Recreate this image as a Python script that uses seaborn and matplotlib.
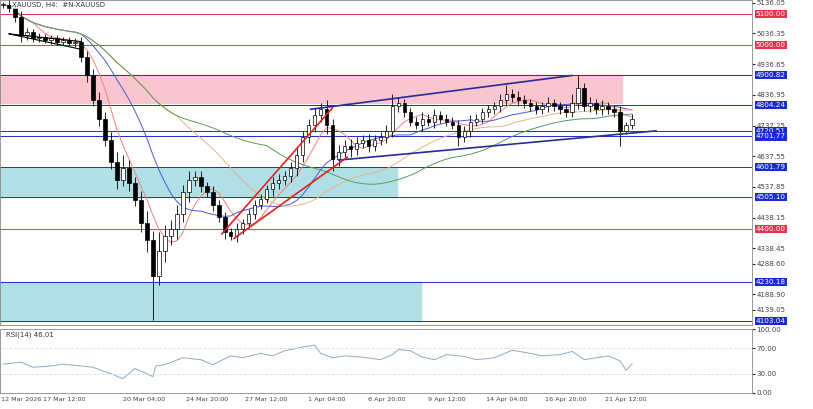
import numpy as np
import pandas as pd
import matplotlib
matplotlib.use("Agg")
import matplotlib.pyplot as plt
from matplotlib.patches import Rectangle
import seaborn as sns

sns.set_style("white")
plt.rcParams['font.family'] = ['DejaVu Sans']

# closes per bar (each bar ~ 6 px of the reference)
closes = [5130, 5120, 5090, 5030, 5040, 5020, 5025, 5015, 5020, 5010, 5015, 5005, 5010, 4960, 4900,
          4820, 4760, 4690, 4620, 4560, 4600, 4550, 4495, 4420, 4365, 4250, 4330, 4380, 4400, 4450,
          4520, 4560, 4570, 4540, 4520, 4480, 4440, 4390, 4380, 4400, 4420, 4450, 4480, 4500, 4530,
          4550, 4560, 4575, 4600, 4640, 4700, 4740, 4770, 4790, 4740, 4630, 4650, 4670, 4660, 4680,
          4690, 4670, 4690, 4700, 4720, 4800, 4810, 4780, 4750, 4740, 4760, 4750, 4770, 4760, 4750,
          4740, 4700, 4720, 4750, 4760, 4780, 4790, 4800, 4820, 4840, 4830, 4820, 4810, 4800, 4790,
          4800, 4810, 4800, 4790, 4780, 4810, 4860, 4800, 4810, 4790, 4800, 4790, 4780, 4720, 4740, 4760]
wick_up = [10, 15, 10, 20, 15, 10, 12, 10, 12, 10, 10, 10, 12, 15, 20,
           20, 25, 20, 25, 30, 40, 25, 20, 30, 40, 30, 60, 35, 30, 30,
           25, 30, 20, 20, 15, 20, 15, 15, 15, 20, 15, 15, 15, 15, 15,
           20, 20, 15, 20, 25, 20, 20, 25, 20, 30, 20, 25, 20, 25, 20,
           15, 20, 15, 15, 20, 40, 20, 15, 15, 15, 20, 15, 20, 15, 15,
           15, 15, 15, 20, 15, 15, 15, 15, 20, 30, 15, 20, 15, 15, 15,
           15, 20, 15, 15, 15, 30, 40, 15, 20, 15, 20, 15, 15, 20, 10, 15]
wick_dn = [10, 15, 15, 20, 15, 10, 12, 10, 12, 10, 10, 10, 12, 15, 20,
           20, 25, 20, 25, 30, 20, 25, 20, 30, 40, 145, 30, 35, 30, 30,
           25, 30, 20, 20, 15, 20, 15, 20, 15, 20, 15, 15, 15, 15, 15,
           20, 20, 15, 20, 25, 20, 20, 25, 20, 30, 40, 25, 20, 25, 20,
           15, 20, 15, 15, 20, 20, 20, 15, 15, 15, 20, 15, 20, 15, 15,
           15, 30, 15, 20, 15, 15, 15, 15, 20, 15, 15, 20, 15, 15, 15,
           15, 20, 15, 15, 15, 15, 20, 15, 20, 15, 20, 15, 15, 50, 10, 15]

# RSI (bar index, value)
rsi_idx = [0, 3, 5, 8, 10, 13, 15, 17, 18, 20, 22, 24, 25, 25.5, 27, 30, 33, 35, 38, 40, 43, 45, 47,
           50, 52, 53, 55, 57, 60, 63, 65, 66, 68, 70, 72, 74, 77, 79, 82, 85, 88, 90, 93, 95, 97,
           99, 101, 103, 104, 105]
rsi_vals = [45, 48, 40, 42, 45, 42, 40, 33, 30, 22, 38, 30, 25, 42, 44, 55, 52, 44, 58, 55, 62, 58,
            66, 72, 75, 62, 55, 58, 56, 52, 60, 68, 66, 56, 52, 60, 57, 52, 55, 67, 62, 58, 60, 65,
            52, 55, 58, 50, 35, 46]

level_prices = [5100.00, 5000.00, 4900.82, 4804.24, 4720.51, 4701.77, 4601.79, 4505.10, 4400.00, 4230.18, 4103.04]
level_colors = ["#e8334a", "#e8334a", "#1a2ad8", "#1a2ad8", "#1a2ad8", "#1a2ad8", "#1a2ad8", "#1a2ad8",
                "#e8334a", "#1a2ad8", "#1a2ad8"]
axis_ticks = [5136.05, 5036.35, 4936.65, 4836.95, 4737.25, 4637.55, 4537.85, 4438.15, 4338.45, 4288.60, 4188.90, 4139.05]
date_pos = [-0.4, 10.3, 23.5, 34, 44, 54, 64, 74, 84, 94, 104]
date_labels = ["12 Mar 2026", "17 Mar 12:00", "20 Mar 04:00", "24 Mar 20:00", "27 Mar 12:00", "1 Apr 04:00",
               "6 Apr 20:00", "9 Apr 12:00", "14 Apr 04:00", "16 Apr 20:00", "21 Apr 12:00"]

df = pd.DataFrame({"close": closes})
df["open"] = df["close"].shift(1).fillna(df["close"][0])
df["high"] = df[["open", "close"]].max(axis=1) + np.array(wick_up)
df["low"] = df[["open", "close"]].min(axis=1) - np.array(wick_dn)

fig = plt.figure(figsize=(8.13, 4.09), dpi=100)
ax = fig.add_axes([0.0, 0.205, 0.925, 0.795])
ax2 = fig.add_axes([0.0, 0.04, 0.925, 0.155], sharex=ax)

XMAX = 125
ax.set_xlim(-0.5, XMAX)
ax.set_ylim(4089, 5145)

# zones
ax.add_patch(Rectangle((-0.5, 4812), 103.8, 88, color="#f9c5cf", zorder=0))
ax.add_patch(Rectangle((-0.5, 4505), 66.3, 96, color="#b1dfe6", zorder=0))
ax.add_patch(Rectangle((-0.5, 4103), 70.2, 127, color="#b1dfe6", zorder=0))

for p, c in zip(level_prices, level_colors):
    ax.axhline(p, color=c, lw=0.7, zorder=1)
    ax.text(XMAX + 0.6, p, f"{p:.2f}", color="white", fontsize=5.2, va="center", ha="left",
            bbox=dict(boxstyle="square,pad=0.15", fc=c, ec="none"), clip_on=False, zorder=5)

# moving averages
ma_specs = [(6, "#f08080"), (14, "#4a5ad8"), (30, "#e8b48a"), (45, "#5a9a5a")]
for n, col in ma_specs:
    ma = df["close"].rolling(n, min_periods=1).mean()
    sns.lineplot(x=df.index, y=ma, ax=ax, color=col, lw=0.7, zorder=2)

# candles
for i, r in df.iterrows():
    up = r["close"] >= r["open"]
    ax.vlines(i, r["low"], r["high"], color="black", lw=0.6, zorder=3)
    body = abs(r["close"] - r["open"]) or 2
    ax.add_patch(Rectangle((i - 0.3, min(r["open"], r["close"])), 0.6, body,
                           fc="white" if up else "black", ec="black", lw=0.5, zorder=4))

# trend lines
ax.plot([51.3, 95], [4790, 4900], color="#2a2a9a", lw=1.2, zorder=5)
ax.plot([56, 109], [4625, 4720], color="#2a2a9a", lw=1.2, zorder=5)
ax.plot([36.5, 55], [4385, 4795], color="#dd2222", lw=1.2, zorder=5)
ax.plot([38.5, 57.5], [4370, 4635], color="#dd2222", lw=1.2, zorder=5)
ax.plot([1, 13, 13, 1], [5035, 5010, 4985, 5035], color="black", lw=0.8, zorder=5)

ax.yaxis.tick_right()
ax.set_yticks(axis_ticks)
ax.set_yticklabels([f"{t:.2f}" for t in axis_ticks], fontsize=5, color="#444")
ax.tick_params(axis="y", length=2, pad=1)
ax.tick_params(axis="x", bottom=False, labelbottom=False)
ax.text(1.5, 5138, "XAUUSD, H4:  #N-XAUUSD", fontsize=5, va="top", color="#333", zorder=6,
        bbox=dict(fc="white", ec="none", pad=0.5, alpha=0.7))
ax.set_ylabel("")

# RSI
sns.lineplot(x=rsi_idx, y=rsi_vals, ax=ax2, color="#8aaacc", lw=0.7)
ax2.axhline(70, color="#dddddd", lw=0.6, ls="--")
ax2.axhline(30, color="#dddddd", lw=0.6, ls="--")
ax2.set_ylim(0, 100)
ax2.yaxis.tick_right()
ax2.set_yticks([0, 30, 70, 100])
ax2.set_yticklabels(["0.00", "30.00", "70.00", "100.00"], fontsize=5, color="#444")
ax2.text(0.5, 96, "RSI(14) 46.01", fontsize=5, va="top", color="#333")
ax2.set_xticks(date_pos)
ax2.set_xticklabels(date_labels, fontsize=4.6, color="#444")
ax2.get_xticklabels()[0].set_horizontalalignment("left")
ax2.tick_params(axis="x", length=2, pad=1)
ax2.tick_params(axis="y", length=2, pad=1)
ax2.set_ylabel("")
ax2.set_xlabel("")
for a in (ax, ax2):
    for s in a.spines.values():
        s.set_color("#888")
        s.set_linewidth(0.6)

fig.savefig("out.png", dpi=100)
